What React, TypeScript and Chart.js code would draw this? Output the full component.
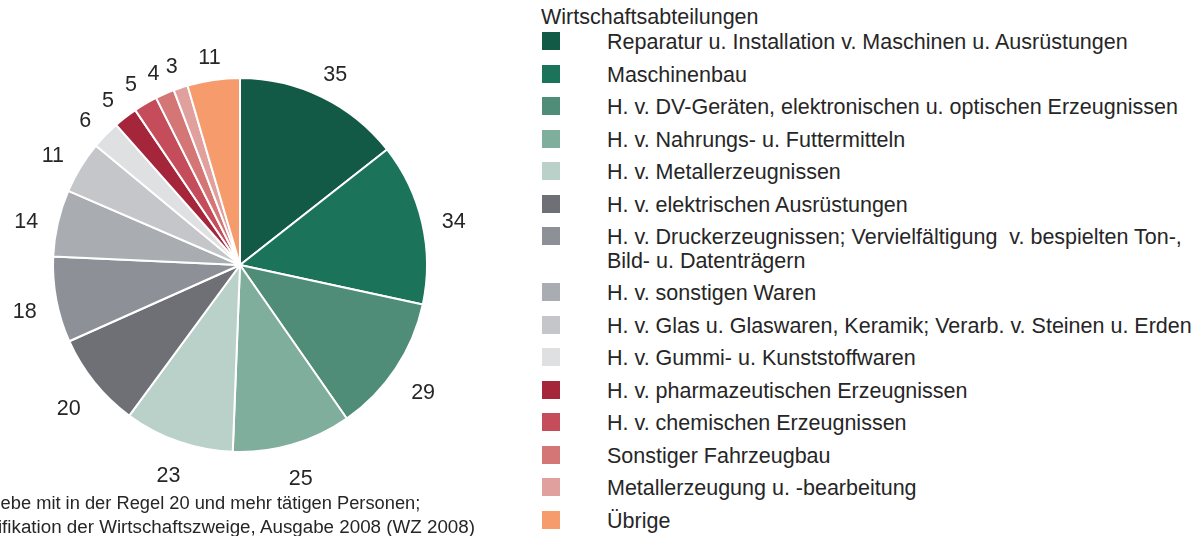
import React, { useEffect, useRef } from "react";
import { Chart, registerables } from "chart.js";

Chart.register(...registerables);

const categories: string[] = [
  "Reparatur u. Installation v. Maschinen u. Ausrüstungen",
  "Maschinenbau",
  "H. v. DV-Geräten, elektronischen u. optischen Erzeugnissen",
  "H. v. Nahrungs- u. Futtermitteln",
  "H. v. Metallerzeugnissen",
  "H. v. elektrischen Ausrüstungen",
  "H. v. Druckerzeugnissen; Vervielfältigung  v. bespielten Ton-,\nBild- u. Datenträgern",
  "H. v. sonstigen Waren",
  "H. v. Glas u. Glaswaren, Keramik; Verarb. v. Steinen u. Erden",
  "H. v. Gummi- u. Kunststoffwaren",
  "H. v. pharmazeutischen Erzeugnissen",
  "H. v. chemischen Erzeugnissen",
  "Sonstiger Fahrzeugbau",
  "Metallerzeugung u. -bearbeitung",
  "Übrige",
];

const values: number[] = [35, 34, 29, 25, 23, 20, 18, 14, 11, 6, 5, 5, 4, 3, 11];

const colors: string[] = [
  "#135a46",
  "#1b735a",
  "#4f8d79",
  "#80ae9c",
  "#b9d1c8",
  "#6e7075",
  "#8d9197",
  "#a9acb0",
  "#c4c6c9",
  "#dfe0e2",
  "#a5253a",
  "#c54c5b",
  "#d47676",
  "#e0a09d",
  "#f69c6c",
];

const legendTitle = "Wirtschaftsabteilungen";
const footnoteLines: string[] = [
  "Betriebe mit in der Regel 20 und mehr tätigen Personen;",
  "Klassifikation der Wirtschaftszweige, Ausgabe 2008 (WZ 2008)",
];

const FONT = '"Liberation Sans", Arial, sans-serif';
const TEXT_COLOR = "#262626";

const outsideLabels = {
  id: "outsideLabels",
  afterDatasetsDraw(chart: any) {
    const ctx = chart.ctx as CanvasRenderingContext2D;
    const meta = chart.getDatasetMeta(0);
    const data = chart.data.datasets[0].data as number[];
    ctx.save();
    ctx.font = `21.5px ${FONT}`;
    ctx.fillStyle = TEXT_COLOR;
    ctx.textAlign = "center";
    ctx.textBaseline = "middle";
    meta.data.forEach((arc: any, i: number) => {
      const p = arc.getProps(["startAngle", "endAngle", "x", "y", "outerRadius"], true);
      const mid = (p.startAngle + p.endAngle) / 2;
      const text = String(data[i]);
      const halfW = ctx.measureText(text).width / 2;
      const halfH = 7.5;
      const c = Math.cos(mid);
      const s = Math.sin(mid);
      const r = p.outerRadius + 19 + halfW * Math.abs(c) + halfH * Math.abs(s);
      ctx.fillText(text, p.x + c * r, p.y + s * r + 6);
    });
    ctx.restore();
  },
};

export default function App() {
  const canvasRef = useRef<HTMLCanvasElement | null>(null);

  useEffect(() => {
    if (!canvasRef.current) return;
    const chart = new Chart(canvasRef.current, {
      type: "pie",
      data: {
        labels: categories,
        datasets: [
          {
            data: values,
            backgroundColor: colors,
            borderColor: "#ffffff",
            borderWidth: 2,
          },
        ],
      },
      options: {
        responsive: false,
        animation: false,
        layout: { padding: 92 },
        plugins: {
          legend: { display: false },
          tooltip: { enabled: false },
        },
      },
      plugins: [outsideLabels],
    });
    return () => chart.destroy();
  }, []);

  const firstCenter = 43;
  const step = 32.5;
  const extraLine = 23.5;

  return (
    <div
      style={{
        position: "fixed",
        left: 0,
        top: 0,
        width: 1200,
        height: 536,
        overflow: "hidden",
        background: "#ffffff",
        fontFamily: FONT,
        color: TEXT_COLOR,
      }}
    >
      <canvas
        ref={canvasRef}
        width={560}
        height={560}
        style={{ position: "absolute", left: -40, top: -15, width: 560, height: 560 }}
      />
      <div
        style={{
          position: "absolute",
          left: 541,
          top: 17 - 12,
          fontSize: 21.5,
          lineHeight: "24px",
          whiteSpace: "pre",
        }}
      >
        {legendTitle}
      </div>
      {categories.map((label, i) => {
        let center = firstCenter + step * i;
        for (let k = 0; k < i; k++) {
          if (categories[k].includes("\n")) center += extraLine;
        }
        return (
          <React.Fragment key={i}>
            <div
              style={{
                position: "absolute",
                left: 542,
                top: center - 11,
                width: 18,
                height: 18,
                background: colors[i],
              }}
            />
            <div
              style={{
                position: "absolute",
                left: 607,
                top: center - 12,
                fontSize: 21.5,
                lineHeight: "23.5px",
                whiteSpace: "pre",
              }}
            >
              {label}
            </div>
          </React.Fragment>
        );
      })}
      <div
        style={{
          position: "absolute",
          left: -37,
          top: 503 - 12,
          fontSize: 18.3,
          lineHeight: "24px",
          whiteSpace: "pre",
        }}
      >
        {footnoteLines[0]}
      </div>
      <div
        style={{
          position: "absolute",
          left: -48,
          top: 527 - 12,
          fontSize: 18.8,
          lineHeight: "24px",
          whiteSpace: "pre",
        }}
      >
        {footnoteLines[1]}
      </div>
    </div>
  );
}
